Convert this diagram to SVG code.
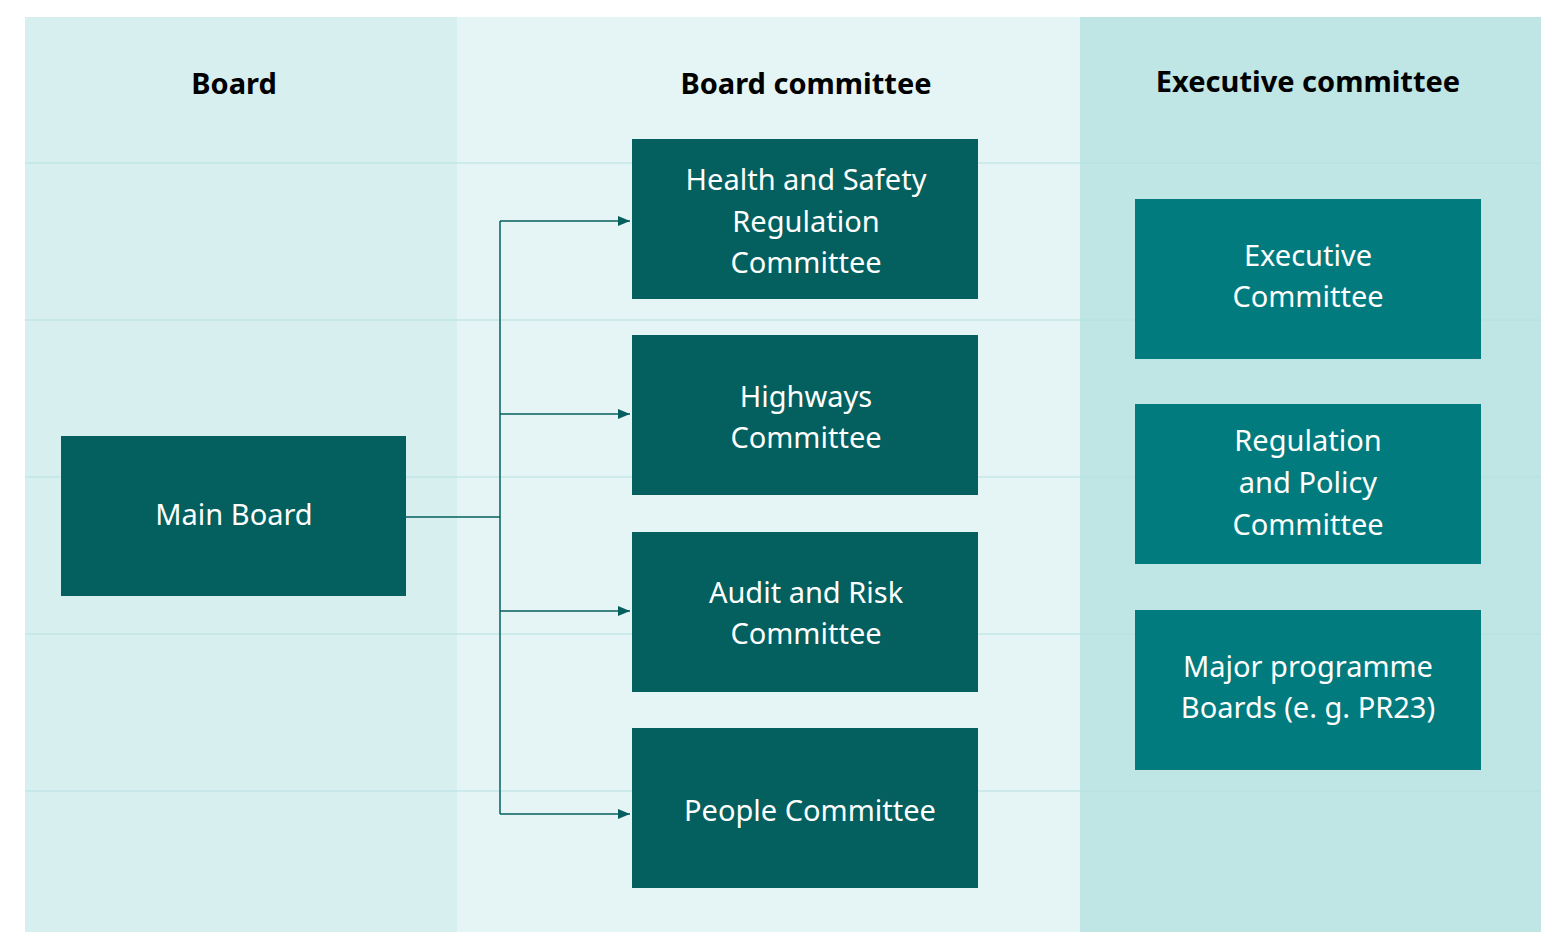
<svg xmlns="http://www.w3.org/2000/svg" width="1562" height="950" viewBox="0 0 1562 950">
<style>
.h{font-family:"Noto Sans",sans-serif;font-weight:bold;font-size:29px;fill:#000;text-anchor:middle}
.t{font-family:"Noto Sans",sans-serif;font-size:29px;fill:#fff;text-anchor:middle}
.d{fill:#03605e}.e{fill:#027b7e}
.g{stroke:#b5e0e0;stroke-width:1}
.c{fill:none;stroke:#03605e;stroke-width:1.5}
</style>
<defs><marker id="a" markerWidth="12" markerHeight="10" refX="12" refY="5" orient="auto" markerUnits="userSpaceOnUse"><path d="M0,0L12,5L0,10z" fill="#03605e"/></marker></defs>
<rect width="1562" height="950" fill="#fff"/>
<rect x="25" y="17" width="432" height="915" fill="#d8eff0"/>
<rect x="457" y="17" width="623" height="915" fill="#e5f4f4"/>
<rect x="1080" y="17" width="461" height="915" fill="#bfe5e5"/>
<g class="g"><line x1="25" y1="163" x2="1541" y2="163"/><line x1="25" y1="320" x2="1541" y2="320"/><line x1="25" y1="477" x2="1541" y2="477"/><line x1="25" y1="634" x2="1541" y2="634"/><line x1="25" y1="791" x2="1541" y2="791"/></g>
<text class="h" x="234" y="94">Board</text>
<text class="h" x="806" y="94">Board committee</text>
<text class="h" x="1308" y="92">Executive committee</text>
<g id="connectors" class="c">
<polyline points="406,517 500,517"/>
<polyline points="500,221 500,814"/>
<line x1="500" y1="221" x2="630" y2="221" marker-end="url(#a)"/>
<line x1="500" y1="414" x2="630" y2="414" marker-end="url(#a)"/>
<line x1="500" y1="611" x2="630" y2="611" marker-end="url(#a)"/>
<line x1="500" y1="814" x2="630" y2="814" marker-end="url(#a)"/>
</g>
<g id="main"><rect class="d" x="61" y="436" width="345" height="160"/><text class="t" x="234" y="525">Main Board</text></g>
<g id="hs"><rect class="d" x="632" y="139" width="346" height="160"/><text class="t" x="806" y="190">Health and Safety</text><text class="t" x="806" y="232">Regulation</text><text class="t" x="806" y="273">Committee</text></g>
<g id="hw"><rect class="d" x="632" y="335" width="346" height="160"/><text class="t" x="806" y="407">Highways</text><text class="t" x="806" y="448">Committee</text></g>
<g id="ar"><rect class="d" x="632" y="532" width="346" height="160"/><text class="t" x="806" y="603">Audit and Risk</text><text class="t" x="806" y="644">Committee</text></g>
<g id="pc"><rect class="d" x="632" y="728" width="346" height="160"/><text class="t" x="810" y="821">People Committee</text></g>
<g id="ex"><rect class="e" x="1135" y="199" width="346" height="160"/><text class="t" x="1308" y="266">Executive</text><text class="t" x="1308" y="307">Committee</text></g>
<g id="rp"><rect class="e" x="1135" y="404" width="346" height="160"/><text class="t" x="1308" y="451">Regulation</text><text class="t" x="1308" y="493">and Policy</text><text class="t" x="1308" y="535">Committee</text></g>
<g id="mp"><rect class="e" x="1135" y="610" width="346" height="160"/><text class="t" x="1308" y="677">Major programme</text><text class="t" x="1308" y="718">Boards (e. g. PR23)</text></g>
</svg>
